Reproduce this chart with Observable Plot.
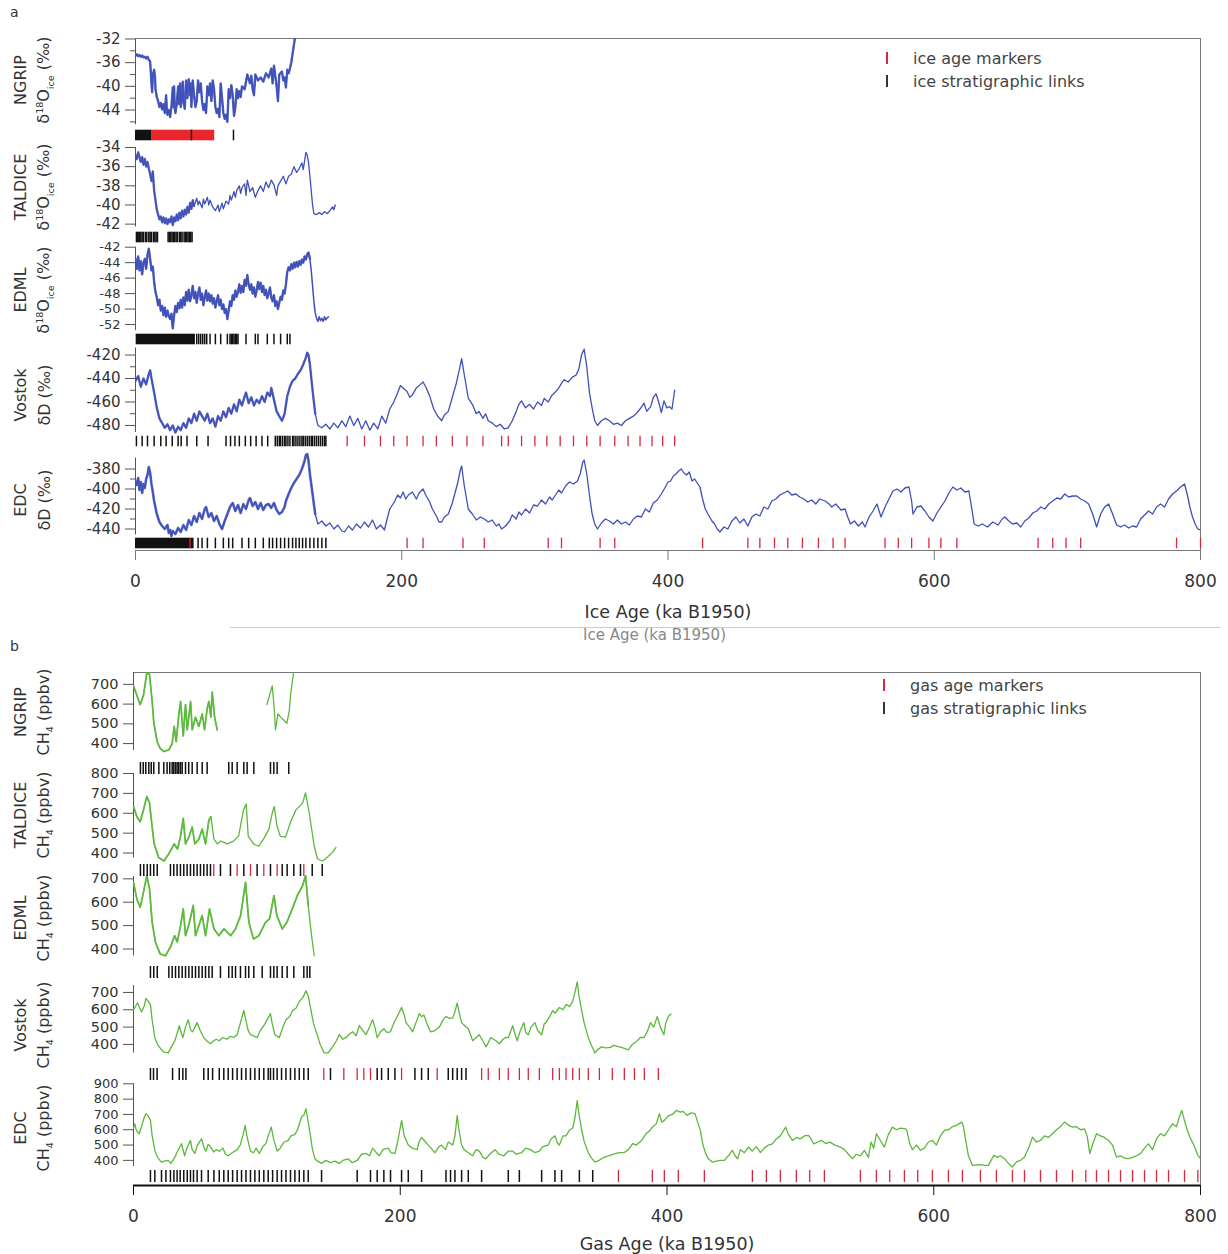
<!DOCTYPE html>
<html><head><meta charset="utf-8">
<script src="https://cdn.jsdelivr.net/npm/d3@7"></script>
<script src="https://cdn.jsdelivr.net/npm/@observablehq/plot@0.6"></script>
<style>
body{margin:0;background:#fff;}
#page{position:relative;width:1228px;height:1254px;font-family:"DejaVu Sans",sans-serif;color:#333;overflow:hidden;background:#fff}
#page svg{position:absolute;left:0;top:0}
.lab{position:absolute;white-space:nowrap;transform:translate(-50%,-50%) rotate(-90deg);font-size:16px;color:#333;line-height:1}
.lab sub,.lab sup{font-size:9.5px}
.leg{position:absolute;font-size:16px;color:#444;white-space:nowrap;transform:translateY(-50%)}
.legtick{position:absolute;width:1.5px;height:12px;transform:translateY(-50%)}
.letter{position:absolute;font-size:14px;color:#333}
</style></head><body><div id="page"></div>
<script>
// ---------------- DATA ----------------
const cores = ["NGRIP", "TALDICE", "EDML", "Vostok", "EDC"];
const xTicks = [0, 200, 400, 600, 800];

// panel a : water isotopes vs ice age (ka, permil)
const ngripD18O = [[0,-34.8],[1,-34.6],[2,-34.9],[3,-34.7],[4,-35.0],[5,-34.8],[6,-35.1],[7,-35.0],[8,-35.3],[9,-35.0],[10,-35.5],[11,-35.8],[12,-39.5],[12.5,-41.0],[13,-38.0],[14,-37.2],[14.7,-38.5],[15,-40.5],[16,-41.8],[17,-42.5],[18,-43.5],[19,-42.8],[20,-43.9],[21,-43.0],[22,-44.5],[23,-41.5],[23.5,-43.8],[24,-44.8],[25,-44.0],[26,-45.2],[27,-43.5],[28,-40.2],[28.5,-43.5],[29,-40.0],[29.5,-43.8],[30,-44.5],[31,-43.0],[32,-40.0],[32.5,-43.0],[33.5,-39.5],[34,-43.5],[35,-41.5],[35.5,-39.2],[36,-42.5],[37,-43.8],[38,-39.0],[39,-42.0],[40,-38.8],[41,-41.5],[41.5,-39.5],[42,-43.5],[43,-39.0],[44,-41.5],[45,-43.5],[46,-42.5],[47,-39.0],[48,-41.0],[49,-39.5],[50,-42.5],[51,-44.0],[52,-43.0],[53,-44.5],[54,-40.0],[55,-41.5],[56,-39.5],[57,-42.5],[58,-39.0],[59,-40.5],[60,-43.5],[61,-44.5],[62,-43.8],[63,-45.2],[64,-39.5],[65,-42.0],[66,-44.5],[67,-45.5],[68,-44.8],[69,-46.0],[70,-40.5],[71,-42.0],[72,-39.8],[73,-41.5],[74,-45.0],[75,-43.5],[76,-40.5],[77,-42.0],[78,-40.8],[79,-41.8],[80,-40.0],[82,-40.5],[84,-38.0],[86,-39.5],[87,-38.2],[88,-40.5],[89,-41.5],[90,-38.0],[92,-39.0],[94,-38.5],[96,-39.2],[98,-37.8],[100,-38.5],[102,-37.0],[103,-39.5],[104,-36.5],[105,-38.2],[106,-40.0],[107,-42.5],[108,-38.0],[110,-37.5],[111,-39.0],[112,-38.5],[113,-40.2],[114,-37.2],[115,-37.8],[116,-37.0],[117,-36.0],[118,-34.5],[119,-33.0],[120,-31.5]];
const taldiceD18O = [[0,-34.8],[1,-35.2],[2,-34.5],[3,-35.0],[4,-35.5],[5,-35.0],[6,-35.8],[7,-35.2],[8,-36.0],[9,-35.5],[10,-36.2],[11,-36.8],[12,-37.5],[13,-36.5],[14,-38.5],[15,-39.5],[16,-40.5],[17,-41.0],[18,-41.5],[19,-41.2],[20,-41.8],[21,-41.3],[22,-41.9],[23,-41.4],[24,-42.0],[25,-41.5],[26,-41.8],[27,-41.2],[28,-42.1],[29,-41.3],[30,-41.7],[31,-41.0],[32,-41.6],[33,-40.8],[34,-41.4],[35,-40.6],[36,-41.2],[37,-40.5],[38,-41.0],[39,-40.2],[40,-40.8],[41,-39.8],[42,-40.4],[43,-39.5],[44,-40.1],[46,-39.3],[47,-40.0],[48,-39.6],[50,-40.3],[51,-39.4],[52,-39.9],[54,-39.2],[55,-40.0],[56,-39.5],[58,-40.2],[60,-40.6],[62,-40.0],[63,-40.7],[65,-39.8],[66,-40.4],[68,-39.6],[70,-39.9],[71,-39.0],[72,-39.5],[74,-38.6],[75,-39.2],[76,-38.5],[78,-38.0],[79,-38.8],[80,-38.2],[82,-37.8],[83,-39.0],[84,-37.4],[85,-38.0],[86,-38.6],[88,-38.2],[90,-39.2],[92,-38.5],[94,-38.0],[96,-38.6],[98,-37.6],[100,-38.2],[102,-37.4],[104,-37.9],[106,-39.0],[107,-38.0],[109,-37.5],[111,-37.0],[113,-37.8],[115,-37.0],[117,-36.8],[119,-36.0],[121,-36.6],[123,-36.2],[125,-35.6],[126,-36.3],[128,-34.5],[129,-34.8],[130,-35.6],[131,-37.0],[132,-38.5],[133,-40.0],[134,-40.9],[136,-41.0],[138,-40.8],[140,-41.0],[142,-40.7],[144,-40.9],[146,-40.6],[148,-40.2],[149,-40.5],[150,-40.0]];
const edmlD18O = [[0,-43.5],[1,-44.8],[2,-43.2],[3,-45.0],[4,-43.8],[5,-45.5],[6,-44.0],[7,-43.5],[8,-44.8],[9,-43.0],[10,-42.2],[11,-43.5],[12,-45.0],[13,-44.5],[14,-46.5],[15,-47.8],[16,-48.5],[17,-49.5],[18,-48.8],[19,-50.2],[20,-49.6],[21,-50.8],[22,-49.8],[23,-51.0],[24,-50.2],[25,-50.9],[26,-51.3],[27,-50.6],[28,-52.5],[29,-50.8],[30,-49.6],[31,-50.4],[32,-49.2],[33,-49.9],[34,-48.8],[35,-49.8],[36,-48.5],[37,-49.5],[38,-47.8],[39,-48.9],[40,-47.5],[41,-49.0],[42,-48.2],[43,-47.0],[44,-48.6],[45,-47.8],[46,-49.2],[47,-48.0],[48,-47.2],[49,-48.8],[50,-48.0],[51,-49.5],[52,-48.5],[53,-47.6],[54,-48.9],[55,-48.0],[56,-49.0],[57,-48.2],[58,-49.3],[59,-48.6],[60,-49.8],[61,-49.0],[62,-48.2],[63,-49.5],[64,-48.8],[65,-50.0],[66,-49.4],[67,-50.5],[68,-50.0],[69,-51.3],[70,-50.2],[71,-49.0],[72,-49.6],[73,-48.2],[74,-48.8],[75,-47.6],[76,-48.4],[77,-47.8],[78,-46.8],[79,-47.9],[80,-47.0],[81,-47.8],[82,-46.2],[83,-47.0],[84,-45.6],[85,-46.8],[86,-47.5],[87,-46.8],[88,-48.0],[89,-47.2],[90,-48.4],[91,-47.6],[92,-46.5],[93,-47.4],[94,-46.6],[95,-47.8],[96,-47.0],[97,-48.2],[98,-47.5],[99,-48.6],[100,-48.0],[101,-47.2],[102,-48.5],[103,-49.0],[104,-48.2],[105,-49.6],[106,-49.0],[107,-50.0],[108,-49.2],[109,-48.4],[110,-48.8],[111,-47.6],[112,-48.0],[113,-46.8],[114,-45.2],[115,-44.6],[116,-45.0],[117,-44.2],[118,-44.8],[119,-44.0],[120,-44.6],[121,-43.9],[122,-44.5],[123,-43.8],[124,-44.3],[125,-43.6],[126,-44.0],[127,-43.2],[128,-43.6],[129,-42.9],[130,-42.7],[131,-43.5],[132,-45.0],[133,-47.0],[134,-49.0],[135,-50.5],[136,-51.2],[137,-51.6],[138,-51.0],[139,-51.5],[140,-51.2],[141,-51.6],[142,-51.0],[143,-51.4],[144,-51.1],[145,-51.0]];
const vostokDD = [[0,-442],[2,-438],[4,-447],[6,-440],[8,-445],[10,-436],[11,-433],[12,-440],[14,-452],[16,-465],[18,-474],[20,-478],[22,-482],[24,-479],[26,-484],[28,-480],[30,-486],[32,-481],[34,-484],[36,-478],[38,-482],[40,-474],[42,-478],[44,-470],[46,-476],[48,-468],[50,-472],[52,-476],[54,-470],[56,-478],[58,-474],[60,-481],[62,-472],[64,-476],[66,-468],[68,-473],[70,-465],[72,-470],[74,-462],[76,-468],[78,-458],[80,-463],[82,-455],[83,-452],[85,-461],[87,-456],[89,-463],[91,-458],[93,-461],[95,-455],[97,-460],[99,-452],[101,-455],[102,-448],[104,-458],[106,-468],[108,-472],[110,-476],[112,-470],[114,-455],[116,-447],[118,-442],[120,-440],[122,-436],[124,-433],[126,-428],[128,-422],[129,-418],[130,-420],[131,-428],[133,-450],[135,-470],[137,-480],[140,-482],[143,-479],[146,-483],[149,-478],[152,-482],[155,-476],[158,-481],[161,-472],[164,-480],[167,-474],[170,-483],[173,-476],[176,-484],[179,-478],[182,-483],[185,-472],[188,-478],[191,-466],[194,-460],[197,-452],[199,-446],[201,-448],[204,-451],[206,-456],[208,-454],[211,-448],[214,-445],[216,-443],[218,-447],[221,-455],[224,-466],[227,-472],[230,-476],[232,-471],[235,-468],[238,-456],[241,-444],[243,-434],[245,-423],[247,-437],[250,-457],[253,-462],[256,-470],[258,-468],[261,-474],[263,-470],[265,-476],[268,-478],[271,-481],[274,-479],[277,-483],[280,-482],[283,-476],[286,-468],[288,-462],[290,-459],[293,-465],[296,-462],[299,-466],[302,-460],[305,-463],[307,-457],[310,-460],[313,-454],[315,-452],[318,-448],[320,-444],[322,-441],[325,-443],[328,-439],[331,-437],[333,-432],[335,-420],[337,-415],[339,-430],[341,-452],[343,-465],[345,-476],[347,-480],[350,-476],[353,-474],[356,-476],[359,-479],[362,-478],[365,-480],[368,-476],[371,-474],[374,-472],[376,-470],[379,-466],[382,-461],[384,-468],[387,-464],[389,-456],[391,-453],[393,-460],[395,-469],[397,-459],[399,-465],[401,-464],[403,-466],[405,-450]];
const edcDD = [[0,-392],[1,-396],[2,-389],[3,-401],[4,-393],[5,-404],[6,-395],[7,-399],[8,-390],[9,-386],[10,-378],[11,-384],[12,-395],[13,-403],[14,-412],[16,-425],[18,-433],[20,-437],[22,-440],[24,-436],[25,-444],[26,-441],[27,-447],[28,-442],[30,-445],[32,-439],[34,-443],[36,-436],[38,-441],[40,-431],[42,-436],[44,-427],[46,-433],[48,-424],[50,-430],[52,-420],[53,-418],[55,-428],[57,-424],[59,-432],[61,-427],[63,-435],[65,-440],[67,-432],[69,-425],[71,-418],[73,-414],[75,-422],[77,-416],[79,-424],[81,-415],[83,-420],[85,-411],[86,-409],[88,-417],[90,-413],[92,-420],[94,-414],[96,-421],[98,-416],[100,-415],[102,-419],[104,-414],[106,-421],[108,-425],[110,-423],[112,-418],[113,-412],[115,-405],[117,-399],[119,-394],[121,-390],[123,-386],[125,-380],[127,-372],[128,-366],[129,-365],[130,-372],[131,-385],[133,-405],[135,-425],[137,-435],[140,-432],[143,-437],[146,-434],[149,-440],[152,-436],[155,-442],[157,-443],[160,-437],[163,-441],[166,-435],[169,-439],[172,-433],[175,-438],[178,-431],[181,-440],[184,-436],[187,-441],[189,-430],[191,-420],[194,-414],[197,-406],[199,-409],[201,-403],[203,-410],[205,-406],[208,-403],[211,-410],[213,-404],[216,-400],[218,-406],[221,-413],[223,-420],[226,-427],[228,-433],[230,-433],[232,-428],[235,-425],[238,-414],[240,-404],[242,-394],[244,-381],[245,-377],[247,-397],[250,-420],[253,-425],[256,-431],[259,-428],[262,-430],[265,-433],[268,-431],[271,-437],[273,-435],[275,-440],[278,-437],[281,-432],[283,-426],[286,-430],[288,-423],[290,-426],[293,-420],[296,-424],[299,-416],[302,-417],[305,-411],[308,-415],[311,-408],[313,-411],[315,-407],[318,-401],[320,-404],[323,-397],[326,-393],[329,-395],[332,-392],[334,-385],[336,-373],[337,-371],[339,-385],[341,-406],[343,-425],[345,-435],[347,-440],[350,-434],[353,-430],[356,-432],[359,-435],[362,-431],[365,-435],[368,-433],[371,-436],[374,-430],[377,-427],[380,-428],[383,-420],[386,-423],[389,-414],[392,-411],[395,-405],[398,-398],[400,-393],[402,-392],[404,-387],[406,-385],[408,-382],[410,-380],[412,-384],[414,-386],[416,-383],[418,-392],[420,-390],[422,-394],[424,-398],[426,-410],[428,-420],[430,-425],[433,-432],[435,-435],[437,-440],[439,-443],[442,-438],[445,-440],[448,-432],[451,-428],[454,-434],[457,-430],[460,-437],[463,-428],[466,-425],[469,-427],[472,-418],[475,-420],[478,-412],[481,-410],[484,-406],[487,-404],[490,-402],[493,-406],[496,-405],[499,-408],[502,-410],[505,-413],[508,-411],[511,-415],[514,-410],[518,-412],[521,-415],[523,-418],[526,-415],[530,-421],[533,-420],[535,-428],[537,-435],[540,-432],[543,-437],[546,-433],[548,-438],[551,-428],[554,-422],[557,-415],[560,-428],[563,-418],[566,-410],[569,-402],[572,-400],[575,-403],[578,-399],[581,-398],[583,-412],[584,-425],[587,-418],[590,-417],[593,-422],[596,-428],[599,-432],[602,-424],[605,-418],[608,-412],[611,-404],[614,-398],[617,-401],[620,-399],[623,-403],[626,-402],[628,-418],[630,-435],[633,-437],[636,-435],[640,-438],[644,-433],[648,-436],[651,-430],[653,-428],[656,-432],[659,-435],[662,-434],[665,-438],[668,-432],[671,-429],[674,-424],[677,-422],[680,-418],[683,-420],[686,-415],[689,-412],[692,-409],[695,-410],[698,-405],[701,-408],[704,-407],[707,-407],[710,-410],[713,-412],[716,-415],[719,-425],[722,-438],[725,-425],[728,-418],[731,-415],[734,-425],[737,-436],[740,-438],[743,-436],[746,-439],[749,-437],[752,-438],[755,-430],[758,-426],[761,-422],[764,-425],[767,-418],[770,-415],[773,-418],[776,-410],[779,-405],[782,-402],[785,-398],[788,-395],[790,-405],[792,-418],[794,-428],[796,-435],[798,-440],[800,-441]];

// panel b : CH4 vs gas age (ka, ppbv)
const ngripCH4 = [[0,692],[2.5,645],[5,597],[7.5,645],[10,760],[12,750],[14,613],[15.3,502],[17.8,408],[20,376],[22.8,360],[26.5,368],[29,400],[30.5,487],[32,410],[34,550],[35.3,613],[37.3,439],[39,597],[40.3,470],[42.8,613],[44,470],[46.5,534],[49,487],[51.5,550],[53.3,470],[55.3,581],[56.5,613],[58,534],[59,660],[60.8,534],[62.8,470],[80,NaN],[100,597],[102,645],[104,692],[105.3,597],[106.5,470],[108.3,550],[110.3,534],[112.8,518],[115,503],[116.8,566],[118,660],[120,760]];
const taldiceCH4 = [[0,634],[2.5,583],[5,557],[7.5,617],[10,685],[12,651],[14,531],[15.5,446],[18.8,378],[22.8,360],[26.5,396],[30.5,446],[33,420],[35.3,485],[37.3,574],[39,446],[41.8,485],[44,531],[46,446],[49,470],[51.5,520],[54,446],[56.5,566],[58,583],[60.3,470],[62.8,446],[65.3,460],[70.3,446],[75,460],[78.8,485],[82.5,617],[84.5,646],[86,485],[90,446],[93.8,434],[97.5,470],[101.5,520],[104,600],[105.5,634],[107.5,540],[110,485],[114,480],[118,560],[121.8,617],[126.8,651],[129,703],[131.8,600],[135.5,434],[138,370],[141.8,360],[145.5,380],[149,402],[151.8,428]];
const edmlCH4 = [[0,685],[2.5,614],[5,578],[7.5,643],[10,714],[12,657],[14,514],[16.5,428],[20,379],[24,371],[27.8,410],[30.8,457],[32.8,430],[35.3,500],[37.3,571],[39,457],[41.8,510],[44.8,586],[46.5,457],[49,500],[51.5,543],[54,457],[57,571],[60.3,486],[64,457],[67.8,486],[72.8,457],[76.5,486],[80.3,543],[84,685],[86.5,514],[90,443],[94,457],[99,514],[102,529],[105.3,628],[107.5,543],[111.5,486],[115,514],[119,571],[122.8,628],[126.8,671],[129,714],[131,586],[133.5,457],[135.5,371]];
const vostokCH4 = [[0,600],[1,613],[3,640],[6,587],[8,620],[9.3,665],[11,650],[12.7,630],[14,540],[16,439],[18,400],[21,369],[23,355],[26,351],[28,380],[31,421],[33,470],[34.3,508],[36,460],[37,439],[39,500],[41,543],[43,480],[44.3,473],[46,500],[47.7,526],[50,480],[52.7,439],[55,420],[57.7,404],[60,420],[62,430],[64.3,421],[67,440],[70,430],[72.7,447],[75,440],[77.7,456],[80,520],[82.7,596],[84,550],[86,480],[87.7,456],[90,450],[92.7,439],[95,480],[97.7,508],[100,540],[102.7,578],[104,520],[106,456],[108,445],[109.3,439],[112,500],[114.3,543],[117,560],[119.3,596],[122,610],[124.3,648],[127,670],[129.3,709],[131,680],[132.7,613],[135,520],[137.7,456],[140,400],[143,351],[146,351],[149.3,386],[152,420],[154.3,456],[157,430],[159.3,439],[162,460],[164.3,473],[167,450],[169.3,508],[172,480],[174.3,456],[177,500],[179.3,543],[181,500],[182.7,439],[185,470],[187.7,491],[190,470],[192.7,473],[195,520],[197.7,561],[201,613],[203,570],[204.3,526],[207,500],[209.3,473],[212,530],[214.3,578],[216,560],[217.7,570],[220,520],[222.7,473],[226,480],[229.3,500],[232,540],[234.3,561],[237,550],[239.3,552],[241,590],[242.7,639],[244,590],[246,526],[248,510],[251,491],[253,450],[254.3,421],[257,440],[259.3,456],[262,420],[264.3,386],[266,410],[267.7,439],[270,430],[272,420],[274.3,404],[277,430],[279,440],[281,439],[283,480],[284.3,508],[286,460],[287.7,421],[290,480],[292.7,526],[294,470],[296,456],[298,500],[301,526],[303,480],[306,456],[308,520],[309.3,526],[312,560],[314.3,596],[316,580],[319.3,613],[322,600],[324.3,630],[327,620],[329.3,648],[331,700],[332.7,761],[334,680],[336,596],[338,520],[341,439],[343,400],[346,351],[348,370],[351,386],[354,380],[357.7,383],[360,395],[364.3,386],[367,380],[371,369],[374,400],[377.7,421],[380,440],[382.7,439],[385,470],[387.7,526],[390,500],[392.7,561],[395,500],[397.7,456],[399,520],[401,561],[403,575]];
const edcCH4 = [[0,610],[1,639],[2,600],[3,585],[4.3,574],[6,620],[8,680],[9.3,705],[11,690],[12.7,661],[14,560],[16,465],[18,420],[21,389],[23,395],[26,400],[28,380],[31,420],[33,460],[36,509],[38.3,430],[40,480],[42.7,530],[44,470],[46,445],[48,500],[51,541],[53,480],[54.3,460],[56,505],[57.7,490],[60,455],[62,470],[64.3,460],[67,480],[69,440],[71,430],[74,450],[77.7,470],[80,500],[82,560],[83.7,628],[85,560],[87.7,460],[90,450],[92,480],[94.3,445],[97,490],[99.3,510],[101,560],[103.3,617],[105,540],[107.7,460],[110,480],[111,495],[113,520],[116,530],[118,560],[121,570],[123,600],[126,683],[128,700],[129.3,737],[131,650],[132.7,560],[134,480],[136,410],[138,395],[141,380],[144,400],[147.7,385],[151,395],[154.3,380],[157,400],[161,410],[164,385],[167.7,400],[171,440],[174.3,445],[177,430],[179.3,480],[182,450],[184.3,430],[187,470],[191,480],[193,450],[196,445],[198,520],[201,661],[203,560],[206,500],[209,480],[212.7,470],[214,520],[216,550],[218,530],[221,500],[224,470],[226,450],[229,490],[231,500],[234,470],[236,520],[239.3,500],[241,560],[242.7,693],[244,600],[246,500],[248,470],[251,450],[254.3,430],[257,470],[259.3,460],[262,420],[264.3,410],[267,440],[271,470],[274,440],[277.7,430],[281,460],[284.3,460],[287,440],[291,450],[294,480],[297.7,470],[301,450],[304.3,460],[307,490],[311,500],[313,540],[316,560],[318,510],[319.3,500],[322,560],[324.3,560],[327,600],[329.3,610],[331,680],[332.7,791],[334,700],[336,600],[338,520],[341,450],[343,420],[346,389],[349,400],[352.7,420],[356,430],[360,440],[364,450],[367.7,450],[371,470],[374.3,510],[377,500],[381,530],[384,570],[387.7,600],[389,617],[392,640],[394.3,705],[396,650],[398,661],[401,690],[404,700],[407,726],[410,715],[412,720],[415,694],[418,710],[421,705],[423,650],[425,596],[427,500],[429,444],[431,410],[434,389],[437,395],[440,400],[443,400],[446,430],[449,466],[451,430],[453,411],[455,470],[458,450],[461,487],[464,460],[467,490],[470,451],[473,480],[476,500],[479,508],[482,540],[485,560],[487,590],[489,617],[491,570],[494,530],[497,550],[500,540],[503,560],[506,563],[508,540],[510,508],[513,520],[516,530],[519,510],[522,519],[526,500],[530,487],[533,470],[536,440],[539,411],[542,440],[545,430],[548,466],[551,420],[553,520],[555,480],[557,574],[560,530],[563,487],[566,570],[569,617],[572,600],[575,610],[579,606],[580,590],[582,508],[584,470],[587,500],[590,466],[593,480],[596,520],[599,530],[602,500],[605,560],[608,596],[611,600],[614,620],[617,628],[619,640],[621,650],[622,630],[624,530],[626,430],[629,367],[632,370],[635,372],[638,368],[641,367],[643,400],[645,433],[648,420],[650,430],[653,411],[656,380],[659,357],[662,390],[665,400],[668,422],[670,460],[672,500],[674,552],[677,520],[680,530],[683,560],[686,550],[689,574],[692,600],[695,620],[698,650],[701,630],[704,617],[707,620],[710,600],[713,606],[715,560],[717,444],[719,500],[722,574],[725,560],[728,550],[731,530],[734,500],[737,422],[740,430],[743,415],[746,411],[749,420],[752,430],[755,444],[758,480],[761,508],[764,470],[767,540],[770,574],[773,560],[776,600],[779,639],[782,620],[784,680],[786,726],[788,660],[790,600],[792,552],[795,500],[798,433],[800,411]];

// age markers (red) and stratigraphic links (black), ages in ka
const ngripIceLinkSpans = [[0, 12.5]];
const ngripIceMarkerSpans = [[12.5, 59.5]];
const ngripIceLinks = [42, 73.6];
const taldiceIceLinks = [0.7,1.5,2.5,3.2,4,5,6,7.5,8.5,10,11,12,13.5,14.5,15.5,16.5,24.5,25.5,26.5,27.5,28.5,29.5,30.5,31.5,33,34,35,36.5,37.5,38.5,39.5,40.5,41.5,42.5];
const edmlIceLinkSpans = [[0.5, 45]];
const edmlIceLinks = [46,47.5,49,50.5,52,53.5,56,60,64,69,71,72,73,74,75,76,77,83,90,92,99,104,109,114,116];
const vostokIceLinks = [0.7,5,9,14,19,23,27.6,32,34.3,38.7,46,54.5,68,71.4,74.7,78,82.5,86.5,90.6,95,99.3,105,106.5,108,109,110.5,112,113,114.5,116,118,119,120.5,122,123.5,125,126,127.5,129,130.5,132,133,134.5,136,137.5,139,140.5,142,143];
const vostokIceMarkers = [159,172,184,194,204,216,226,238,249,261,275,280,290,300,309,319,329,339,349,360,370,379,388,396,405];
const edcIceLinkSpans = [[0, 44]];
const edcIceLinks = [47,50,54,60,66,70,73,80,85,90,96,100.5,103,106,109,112,115,118,120.5,123,125.5,128,131,134,137,140,143];
const edcIceMarkers = [41,204,216,246,262,310,320,349,360,426,460,469,480,490,501,513,524,533,563,573,583,596,605,617,678,689,699,710,782,800];

const ngripGasLinks = [5.2,7.3,9.2,11.5,13.3,15.2,19,22.7,25.2,27.2,29,30.2,31.5,32.7,33.9,35.2,36.5,39,41.4,44,47.7,51.5,55.2,71.4,74,77.7,82.7,85.2,90.2,102.7,105.2,107.7,116.4];
const taldiceGasLinks = [5.2,7.7,10.3,12.7,15.2,17.8,27.7,30.2,32.7,35.2,37.7,40.2,42.7,45.2,47.7,50.2,52.7,55.2,57.7,65.2,72.7,82.7,92.7,102.7,111.5,115.2,120.2,125.2,134,141.5];
const taldiceGasMarkers = [60.2,77.7,87.7,97.7,107.7,127.7];
const edmlGasLinks = [12.7,15.2,17.8,26.5,29,31.5,34,36.5,39,41.5,44,46.5,49,51.5,54,56.5,59,65.2,71.4,74,76.5,80.2,84,86.4,90.2,96.5,102.7,105.2,107.7,111.5,115.2,120.2,127.7,130.2,132.2];
const vostokGasLinks = [12.7,15,17.7,29.3,34.3,37,39.3,52.7,56,59.3,64.3,67.7,71,74.3,77.7,81,84.3,87.7,91,94.3,97.7,101,102.7,105,107.7,111,114.3,117.7,121,124.3,127.7,131,147.7,182.7,186,191,196,211,216,221,236,239.3,242.7,246,249.3];
const vostokGasMarkers = [142.7,157.7,167.7,172.7,177.7,201,227.7,261,266,274.3,281,289.3,296,304.3,314.3,319.3,324.3,329.3,334.3,341,349.3,359,368,375.6,383,393.5];
const edcGasLinks = [12.7,16,21,24.3,27.7,30.3,32.7,35,37.7,40.3,42.7,45,47.7,51,56,60.3,64.3,67.7,71,74.3,77.7,81,84.3,87.7,91,94.3,97.7,101,104.3,107.7,111,114.3,117.7,121,124.3,127.7,131,141,167.7,177.7,182.7,187.7,192.7,201,206,216,234.3,237.7,241,246,251,261,281,289.3,306,316,321,334.3,344.3];
const edcGasMarkers = [363.6,389,398,408.5,428,464,474.5,485,497,507,518,545,557,567,578,588,599,611,621.5,635,647,659,668,680,692,704,714,722,731,740,749,758,767,776,788,798];

// ---------------- DRAWING ----------------
const W = 1228, H = 1254;
const BLUE = "#3f50b8", GREEN = "#5cb83c", RED = "#d8283c", BLACK = "#111";
const page = document.getElementById("page");
const PA = {left: 135, top: 38, bottom: 550};
const PB = {left: 133, top: 672, bottom: 1185};

function add(P, opts) {
  const svg = Plot.plot({
    width: W, height: H,
    marginLeft: P.left, marginRight: W - 1200, marginTop: P.top, marginBottom: H - P.bottom,
    style: {background: "none", fontFamily: "DejaVu Sans", fontSize: "15px", color: "#333", overflow: "visible"},
    ...opts
  });
  page.appendChild(svg);
}

// denseTo: ages up to which the record is high-resolution (drawn thicker)
function track(P, series, color, domain, range, major, minor, sw, fs, denseTo, denseW) {
  add(P, {
    x: {domain: [0, 800], axis: null},
    y: {domain, range, axis: null},
    marks: [
      Plot.ruleX([0], {y1: domain[0], y2: domain[1], stroke: "#555"}),
      minor ? Plot.axisY({ticks: minor, tickSize: 5, fill: "none", stroke: "#555", label: null}) : null,
      Plot.axisY({ticks: major, tickSize: 10, tickPadding: 5, tickFormat: d => String(d), label: null, stroke: "#555", fill: "#333", fontSize: fs}),
      Plot.line(series, {x: d => d[0], y: d => d[1], stroke: color, strokeWidth: sw, clip: true}),
      denseTo ? Plot.line(series, {filter: d => d[0] <= denseTo, x: d => d[0], y: d => d[1], stroke: color, strokeWidth: denseW, strokeOpacity: 0.85, clip: true}) : null
    ]
  });
}

function rows(list, core) { return list.map(age => ({core, age})); }
function spans(list, core) { return list.map(([a, b]) => ({core, a, b})); }

function markerRows(P, range, links, markers, linkSpans, markerSpans, inset) {
  add(P, {
    x: {domain: [0, 800], axis: null},
    y: {type: "band", domain: cores, range, padding: 0, axis: null},
    marks: [
      Plot.barX(linkSpans, {x1: "a", x2: "b", y: "core", fill: BLACK, insetTop: inset, insetBottom: inset}),
      Plot.barX(markerSpans, {x1: "a", x2: "b", y: "core", fill: "#e8262c", insetTop: inset, insetBottom: inset}),
      Plot.tickX(links, {x: "age", y: "core", stroke: BLACK, strokeWidth: 1.5, insetTop: inset, insetBottom: inset}),
      Plot.tickX(markers, {x: "age", y: "core", stroke: RED, strokeWidth: 1.3, insetTop: inset, insetBottom: inset})
    ]
  });
}

function frame(P, label, axisStroke, axisWidth, labelDy) {
  add(P, {
    x: {domain: [0, 800], axis: null},
    y: {domain: [0, 1], axis: null},
    marks: [
      Plot.ruleY([1], {stroke: "#777"}),
      Plot.ruleX([800], {stroke: "#777"}),
      Plot.ruleY([0], {stroke: axisStroke, strokeWidth: axisWidth}),
      Plot.axisX({ticks: xTicks, tickSize: 10, tickPadding: 14, tickFormat: d => String(d), label: null, stroke: axisStroke, fill: "#333", fontSize: 17}),
      Plot.text([label], {frameAnchor: "bottom", lineAnchor: "middle", dy: labelDy, fontSize: 17.5, fill: "#333"})
    ]
  });
}

// ---- panel a
frame(PA, "Ice Age (ka B1950)", "#777", 1, 62);
track(PA, ngripD18O, BLUE, [-46.5, -32], [124.3, 38.5], [-32, -36, -40, -44], [-34, -38, -42, -46], 1.5, 15, 120, 2.4);
track(PA, taldiceD18O, BLUE, [-42.3, -34], [226.5, 147], [-34, -36, -38, -40, -42], null, 1.3, 15, 45, 2.4);
track(PA, edmlD18O, BLUE, [-52.8, -42], [330.2, 246.7], [-42, -44, -46, -48, -50, -52], null, 1.5, 13, 131, 2.4);
track(PA, vostokDD, BLUE, [-486, -414], [432, 347.5], [-420, -440, -460, -480], [-430, -450, -470], 1.3, 15, 135, 2.4);
track(PA, edcDD, BLUE, [-446, -369], [534.5, 457.5], [-380, -400, -420, -440], [-390, -410, -430], 1.3, 15, 135, 2.6);
markerRows(PA, [134 - 51.4, 545 + 51.4],
  [...rows(ngripIceLinks, "NGRIP"), ...rows(taldiceIceLinks, "TALDICE"), ...rows(edmlIceLinks, "EDML"), ...rows(vostokIceLinks, "Vostok"), ...rows(edcIceLinks, "EDC")],
  [...rows(vostokIceMarkers, "Vostok"), ...rows(edcIceMarkers, "EDC")],
  [...spans(ngripIceLinkSpans, "NGRIP"), ...spans(edmlIceLinkSpans, "EDML"), ...spans(edcIceLinkSpans, "EDC")],
  spans(ngripIceMarkerSpans, "NGRIP"), 45.7);

// ---- panel b
frame(PB, "Gas Age (ka B1950)", "#111", 2, 59);
track(PB, ngripCH4, GREEN, [365, 760], [750, 672], [700, 600, 500, 400], null, 1.3, 14.5, 63, 1.8);
track(PB, taldiceCH4, GREEN, [375, 800], [857.5, 773], [800, 700, 600, 500, 400], null, 1.3, 14.5, 60, 1.8);
track(PB, edmlCH4, GREEN, [370, 710], [955.5, 876], [700, 600, 500, 400], null, 1.3, 14.5, 131, 1.8);
track(PB, vostokCH4, GREEN, [350, 740], [1052.6, 985], [700, 600, 500, 400], null, 1.3, 14.5, null, 0);
track(PB, edcCH4, GREEN, [360, 900], [1166, 1083.3], [900, 800, 700, 600, 500, 400], null, 1.3, 13, null, 0);
markerRows(PB, [767 - 51.1, 1176 + 51.1],
  [...rows(ngripGasLinks, "NGRIP"), ...rows(taldiceGasLinks, "TALDICE"), ...rows(edmlGasLinks, "EDML"), ...rows(vostokGasLinks, "Vostok"), ...rows(edcGasLinks, "EDC")],
  [...rows(taldiceGasMarkers, "TALDICE"), ...rows(vostokGasMarkers, "Vostok"), ...rows(edcGasMarkers, "EDC")],
  [], [], 45);

// ---- html text: labels, legends, panel letters
function html(cls, x, y, inner, extra) {
  const d = document.createElement("div");
  d.className = cls; d.style.left = x + "px"; d.style.top = y + "px"; d.innerHTML = inner;
  if (extra) Object.assign(d.style, extra);
  page.appendChild(d);
}
const isoLab = "δ<sup>18</sup>O<sub>ice</sub> (‰)", dLab = "δD (‰)", chLab = "CH<sub>4</sub> (ppbv)";
[["NGRIP", 80, isoLab], ["TALDICE", 187, isoLab], ["EDML", 290, isoLab], ["Vostok", 395, dLab], ["EDC", 500, dLab]]
  .forEach(([n, y, u]) => { html("lab", 21, y, n); html("lab", 45, y, u); });
[["NGRIP", 712], ["TALDICE", 815], ["EDML", 918], ["Vostok", 1025], ["EDC", 1128]]
  .forEach(([n, y]) => { html("lab", 21, y, n); html("lab", 45, y, chLab); });

html("letter", 10, 4, "a");
html("letter", 10, 638, "b");
html("legtick", 886, 58, "", {background: RED});
html("leg", 913, 58, "ice age markers");
html("legtick", 886, 81, "", {background: "#333"});
html("leg", 913, 81, "ice stratigraphic links");
html("legtick", 883, 685, "", {background: RED});
html("leg", 910, 685, "gas age markers");
html("legtick", 883, 708, "", {background: "#333"});
html("leg", 910, 708, "gas stratigraphic links");
// separator between panels and the faint repeated axis title beneath it
html("sep", 230, 627, "", {position: "absolute", width: "990px", height: "1px", background: "#ccc"});
html("ghost", 583, 628, "Ice Age (ka B1950)", {position: "absolute", fontSize: "15px", color: "#888", whiteSpace: "nowrap", lineHeight: "1"});
</script></body></html>
